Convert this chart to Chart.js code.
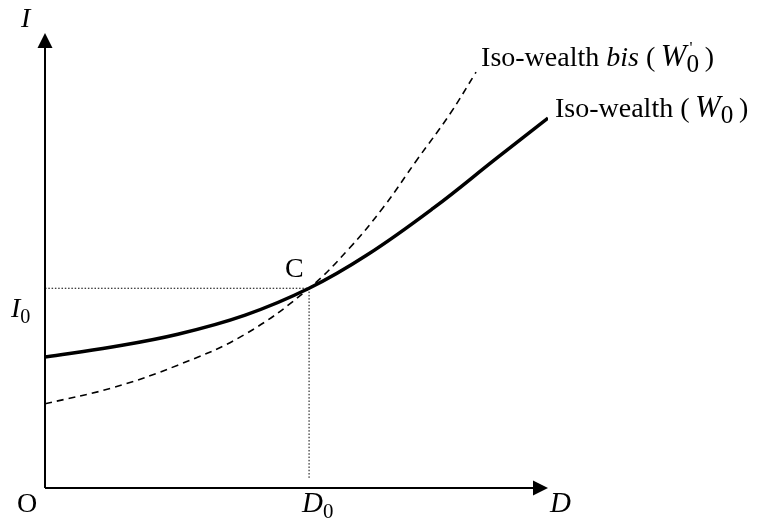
<!DOCTYPE html>
<html>
<head>
<meta charset="utf-8">
<script src="https://cdn.jsdelivr.net/npm/chart.js@4.4.1/dist/chart.umd.min.js"></script>
<style>
  html, body { margin: 0; padding: 0; background: #fff; }
  #wrap { width: 761px; height: 522px; }
</style>
</head>
<body>
<div id="wrap"><canvas id="myCanvas" width="761" height="522"></canvas></div>
<script>
// valeurs (D en abscisse, I en ordonnée, échelle 0..10)
const isoD = [0, 1.33, 2.64, 3.98, 5.25, 6.40, 7.72, 8.98, 10.0];
const isoI = [2.88, 3.10, 3.38, 3.80, 4.39, 5.12, 6.15, 7.25, 8.13];

const bisD = [0, 1.33, 2.64, 3.98, 5.25, 6.06, 6.72, 7.40, 8.05, 8.57];
const bisI = [1.85, 2.20, 2.70, 3.38, 4.39, 5.28, 6.16, 7.22, 8.22, 9.14];

const pointC = { D: 5.25, I: 4.39 };

// textes : [texte, italique, position, taille relative] ; position : 0 normal, 1 indice, 2 exposant
const labelIso = [["Iso-wealth (\u2009", false, 0, 1], ["W", true, 0, 1.1], ["0", false, 1, 0.9], ["\u2009)", false, 0, 1]];
const labelBis = [["Iso-wealth ", false, 0, 1], ["bis", true, 0, 1], [" (\u2009", false, 0, 1], ["W", true, 0, 1.1], ["0", false, 1, 0.9], ["'", false, 2, 0.6], ["\u2009)", false, 0, 1]];

const toXY = (xs, ys) => xs.map((x, i) => ({ x: x, y: ys[i] }));

const serif = '"Liberation Serif", "DejaVu Serif", serif';

const drawRuns = (ctx, runs, x, y, size) => {
  let cx = x;
  let lastW = 0;
  runs.forEach((r) => {
    let s = size * (r[3] || (r[2] === 1 ? 0.72 : r[2] === 2 ? 0.6 : 1));
    let dy = 0;
    if (r[2] === 1) dy = 6;
    if (r[2] === 2) dy = -13;
    ctx.font = (r[1] ? 'italic ' : '') + s + 'px ' + serif;
    let w = ctx.measureText(r[0]).width;
    if (r[2] === 2) {
      // l'exposant se place au-dessus de l'indice précédent
      ctx.fillText(r[0], cx - lastW + 3, y + dy);
    } else {
      ctx.fillText(r[0], cx, y + dy);
      cx += w;
      lastW = w;
    }
  });
};

const axesPlugin = {
  id: 'axesPlugin',
  afterDatasetsDraw(chart) {
    const ctx = chart.ctx;
    const xs = chart.scales.x;
    const ys = chart.scales.y;
    const x0 = xs.getPixelForValue(0);
    const y0 = ys.getPixelForValue(0);
    const xEnd = xs.getPixelForValue(10);
    const yEnd = ys.getPixelForValue(10);
    const cx = xs.getPixelForValue(pointC.D);
    const cy = ys.getPixelForValue(pointC.I);

    ctx.save();
    // pointillés vers C
    ctx.strokeStyle = '#000';
    ctx.lineWidth = 1;
    ctx.setLineDash([1.5, 1.8]);
    ctx.beginPath();
    ctx.moveTo(x0, cy);
    ctx.lineTo(cx, cy);
    ctx.moveTo(cx, cy);
    ctx.lineTo(cx, y0 - 10);
    ctx.stroke();
    ctx.setLineDash([]);

    // axes
    ctx.lineWidth = 2;
    ctx.beginPath();
    ctx.moveTo(x0, y0);
    ctx.lineTo(x0, yEnd + 10);
    ctx.moveTo(x0, y0);
    ctx.lineTo(xEnd - 10, y0);
    ctx.stroke();

    ctx.fillStyle = '#000';
    ctx.beginPath();
    ctx.moveTo(x0, yEnd);
    ctx.lineTo(x0 - 7.5, yEnd + 15);
    ctx.lineTo(x0 + 7.5, yEnd + 15);
    ctx.closePath();
    ctx.fill();
    ctx.beginPath();
    ctx.moveTo(xEnd, y0);
    ctx.lineTo(xEnd - 15, y0 - 7.5);
    ctx.lineTo(xEnd - 15, y0 + 7.5);
    ctx.closePath();
    ctx.fill();

    // étiquettes
    ctx.textBaseline = 'alphabetic';
    ctx.textAlign = 'left';
    drawRuns(ctx, [["I", true, 0]], x0 - 24, yEnd - 6, 28);
    drawRuns(ctx, [["O", false, 0]], x0 - 28, y0 + 24, 28);
    drawRuns(ctx, [["D", true, 0]], xEnd + 2, y0 + 24, 29);
    drawRuns(ctx, [["D", true, 0], ["0", false, 1]], cx - 7, y0 + 24, 29);
    drawRuns(ctx, [["I", true, 0], ["0", false, 1]], x0 - 34, cy + 29, 28);
    drawRuns(ctx, [["C", false, 0]], cx - 24, cy - 11, 28);

    // libellés des courbes
    const isoEnd = chart.data.datasets[0].data[isoD.length - 1];
    const bisEnd = chart.data.datasets[1].data[bisD.length - 1];
    drawRuns(ctx, labelIso, xs.getPixelForValue(isoEnd.x) + 7, ys.getPixelForValue(isoEnd.y) - 1, 28);
    drawRuns(ctx, labelBis, xs.getPixelForValue(bisEnd.x) + 5, ys.getPixelForValue(bisEnd.y) - 6, 28);
    ctx.restore();
  }
};

new Chart(document.getElementById('myCanvas'), {
  type: 'scatter',
  data: {
    datasets: [
      {
        label: 'Iso-wealth (W0)',
        data: toXY(isoD, isoI),
        showLine: true,
        borderColor: '#000',
        borderWidth: 3.5,
        pointRadius: 0,
        tension: 0.4,
        borderCapStyle: 'butt'
      },
      {
        label: "Iso-wealth bis (W0')",
        data: toXY(bisD, bisI),
        showLine: true,
        borderColor: '#000',
        borderWidth: 1.6,
        borderDash: [7, 5],
        pointRadius: 0,
        tension: 0.4
      }
    ]
  },
  options: {
    responsive: false,
    animation: false,
    devicePixelRatio: 1,
    layout: { padding: { left: 45, right: 213, top: 33, bottom: 34 } },
    plugins: { legend: { display: false }, tooltip: { enabled: false } },
    scales: {
      x: { type: 'linear', min: 0, max: 10, display: false },
      y: { type: 'linear', min: 0, max: 10, display: false }
    }
  },
  plugins: [axesPlugin]
});
</script>
</body>
</html>
